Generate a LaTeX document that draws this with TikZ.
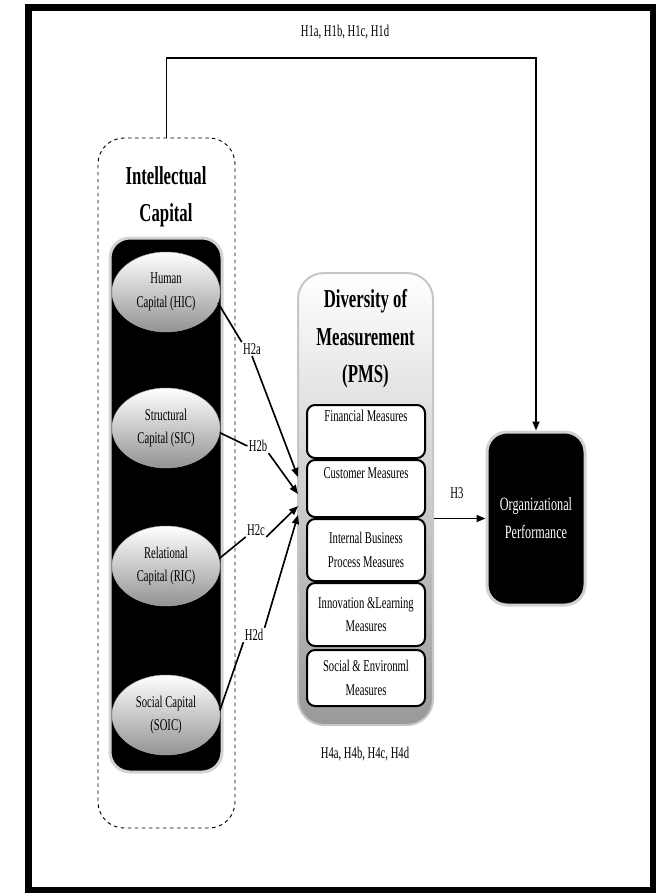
\documentclass[tikz,border=0pt]{standalone}
\usepackage{fontspec}
\setmainfont{Liberation Serif}[FakeStretch=0.65]
\usetikzlibrary{positioning,arrows.meta,shapes.geometric}

\newlength{\upx}\setlength{\upx}{0.03cm}
\newcommand{\labfont}{\fontsize{14}{20}\selectfont}
\newcommand{\headfont}{\fontsize{22}{32}\selectfont\bfseries}

\begin{document}
\begin{tikzpicture}[x=0.03cm,y=-0.03cm]
        \tikzset{ghost/.style={draw,dashed,thick,rounded corners=26\upx}}
        \tikzset{darkbox/.style={fill=black,draw=gray!35,line width=3\upx,rounded corners=20\upx}}
        \tikzset{capital/.style={ellipse,draw=gray!70,top color=white,middle color=gray!20,bottom color=gray!85,
                minimum width=108\upx,minimum height=80\upx,inner sep=0pt,align=center,font=\labfont}}
        \tikzset{measure/.style={draw,line width=2\upx,rounded corners=8\upx,fill=white,
                minimum width=118\upx,inner sep=0pt,align=center,font=\labfont}}
        \tikzset{hyp/.style={font=\labfont,inner sep=1pt}}
        \tikzset{vec/.style={draw,line width=1.4pt,-{Triangle[length=0.27cm,width=0.21cm]}}}
        \tikzset{link/.style={draw,line width=1.4pt}}

        \useasboundingbox (0,0) rectangle (656,893);
        \draw[line width=7\upx] (28,7) rectangle (653,890);

        % intellectual capital
        \node[ghost,minimum width=137\upx,minimum height=690\upx] (ic) at (166.5,483) {};
        \node[font=\headfont,align=center] (ic-title) at (166,197) {Intellectual\\Capital};
        \node[darkbox,minimum width=112\upx,minimum height=534\upx] (ic-box) at (166,505) {};
        \node[capital] (hic) at (166,292) {Human\\Capital (HIC)};
        \node[capital] (sic) at (166,428) {Structural\\Capital (SIC)};
        \node[capital] (ric) at (166,566) {Relational\\Capital (RIC)};
        \node[capital] (soic) at (166,715) {Social Capital\\(SOIC)};

        % diversity of measurement
        \node[draw=gray!45,line width=2\upx,rounded corners=26\upx,top color=white,middle color=gray!15,bottom color=gray!80,
              minimum width=135\upx,minimum height=452\upx] (pms) at (365.5,499) {};
        \node[font=\headfont,align=center] (pms-title) at (365.5,339) {Diversity of\\Measurement\\(PMS)};
        \node[measure,minimum height=53\upx] (fin) at (366,431.5) {Financial Measures\\\strut};
        \node[measure,minimum height=57\upx,below=0pt of fin] (cus) {Customer Measures\\\strut};
        \node[measure,minimum height=62\upx,below=0pt of cus] (ibp) {Internal Business\\Process Measures};
        \node[measure,minimum height=63\upx,below=0pt of ibp] (inl) {Innovation \&Learning\\Measures};
        \node[measure,minimum height=56\upx,below=2\upx of inl] (soc) {Social \& Environml\\Measures};

        % organizational performance
        \node[darkbox,minimum width=98\upx,minimum height=173\upx,text=white,align=center,
              font=\fontsize{16}{24}\selectfont] (org) at (536,518.5) {Organizational\\Performance};

        % hypotheses
        \node[hyp] (h1) at (345,32) {H1a, H1b, H1c, H1d};
        \node[hyp] (h2a) at (252,349) {H2a};
        \node[hyp] (h2b) at (258,446) {H2b};
        \node[hyp] (h2c) at (256,530) {H2c};
        \node[hyp] (h2d) at (254,635) {H2d};
        \node[hyp] (h3) at (457,493) {H3};
        \node[hyp] (h4) at (365,754) {H4a, H4b, H4c, H4d};

        \coordinate (route) at (345,58);
        \coordinate (in-a) at (298,477);
        \coordinate (in-b) at (298,494);
        \coordinate (in-c) at (298,506);
        \coordinate (in-d) at (298,515);

        \draw[link] (hic.-12) -- (h2a.north west);
        \draw[link] (sic.-5) -- (h2b.west);
        \draw[link] (ric.8) -- (h2c.south west);
        \draw[link] (soic.5) -- (h2d.south west);
        \draw[vec] (h2a.south) -- (in-a);
        \draw[vec] (h2b.south east) -- (in-b);
        \draw[vec] (h2c.south east) -- (in-c);
        \draw[vec] (h2d.north east) -- (in-d);

        \draw[vec] (org.west -| pms.east) -- (org.west);
        \draw[vec] (ic.north) |- (route) -| (org.north);
\end{tikzpicture}
\end{document}
